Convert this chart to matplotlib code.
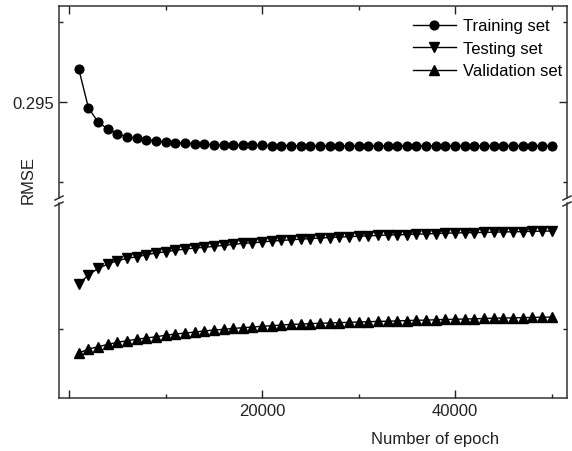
import numpy as np
import matplotlib
matplotlib.use('Agg')
import matplotlib.pyplot as plt
from matplotlib.ticker import MultipleLocator, FixedLocator, NullFormatter, FixedFormatter

plt.rcParams['font.family'] = ['Liberation Sans', 'DejaVu Sans']

epochs = np.arange(1000, 50001, 1000)

training = [0.295206, 0.294963, 0.294875, 0.294831, 0.294800, 0.294783, 0.294773,
            0.294764, 0.294756, 0.294750, 0.294746, 0.294742, 0.294739, 0.294736,
            0.294734, 0.294733, 0.294731, 0.294730, 0.294729, 0.294729, 0.294728,
            0.294728, 0.294728, 0.294727, 0.294727, 0.294727, 0.294727, 0.294727,
            0.294727, 0.294727, 0.294727, 0.294727, 0.294727, 0.294727, 0.294727,
            0.294727, 0.294727, 0.294727, 0.294727, 0.294727, 0.294727, 0.294727,
            0.294727, 0.294727, 0.294727, 0.294727, 0.294727, 0.294727, 0.294727,
            0.294727]

testing = [0.290281, 0.290338, 0.290379, 0.290406, 0.290427, 0.290442, 0.290452,
           0.290464, 0.290475, 0.290483, 0.290492, 0.290500, 0.290506, 0.290511,
           0.290517, 0.290523, 0.290529, 0.290536, 0.290539, 0.290544, 0.290550,
           0.290554, 0.290558, 0.290562, 0.290566, 0.290569, 0.290572, 0.290575,
           0.290578, 0.290580, 0.290583, 0.290585, 0.290588, 0.290589, 0.290591,
           0.290593, 0.290595, 0.290597, 0.290599, 0.290601, 0.290602, 0.290603,
           0.290604, 0.290606, 0.290607, 0.290608, 0.290609, 0.290611, 0.290612,
           0.290613]

validation = [0.289850, 0.289875, 0.289889, 0.289904, 0.289917, 0.289927, 0.289936,
              0.289944, 0.289952, 0.289961, 0.289969, 0.289975, 0.289981, 0.289988,
              0.289994, 0.289998, 0.290004, 0.290008, 0.290013, 0.290017, 0.290021,
              0.290025, 0.290029, 0.290031, 0.290034, 0.290036, 0.290038, 0.290040,
              0.290042, 0.290044, 0.290046, 0.290048, 0.290049, 0.290051, 0.290053,
              0.290055, 0.290056, 0.290058, 0.290060, 0.290061, 0.290063, 0.290064,
              0.290066, 0.290068, 0.290069, 0.290070, 0.290071, 0.290073, 0.290074,
              0.290075]

W, H = 572, 452
FS = 12
fig = plt.figure(figsize=(W / 100, H / 100), dpi=100)

def box(x0, y0, x1, y1):
    # pixel box (top-left origin) -> figure fraction
    return [x0 / W, 1 - y1 / H, (x1 - x0) / W, (y1 - y0) / H]

ax_top = fig.add_axes(box(59, 7, 567, 199))
ax_bot = fig.add_axes(box(59, 204, 567, 399))

mk = dict(color='black', lw=1.0, markersize=7)
l1, = ax_top.plot(epochs, training, marker='o', markersize=6.3, color='black', lw=1.0,
                  label='Training set')
l2, = ax_bot.plot(epochs, testing, marker='v', label='Testing set', **mk)
l3, = ax_bot.plot(epochs, validation, marker='^', label='Validation set', **mk)

for ax in (ax_top, ax_bot):
    ax.set_xlim(-1050, 51600)
    ax.xaxis.set_major_locator(MultipleLocator(20000))
    ax.xaxis.set_minor_locator(MultipleLocator(10000))
    ax.tick_params(which='both', direction='in', top=True, right=True,
                   labelsize=FS, colors='#222222', width=1.0)
    ax.tick_params(which='major', length=6)
    ax.tick_params(which='minor', length=3)
    for s in ax.spines.values():
        s.set_linewidth(1.1)
        s.set_color('#333333')

ax_top.set_ylim(0.2944, 0.2956)
ax_top.yaxis.set_major_locator(FixedLocator([0.295]))
ax_top.yaxis.set_major_formatter(FixedFormatter(['0.295']))
ax_top.yaxis.set_minor_locator(FixedLocator([0.2945, 0.2955]))
ax_top.spines['bottom'].set_visible(False)
ax_top.tick_params(which='both', bottom=False, labelbottom=False)

ax_bot.set_ylim(0.289569, 0.290788)
ax_bot.yaxis.set_major_locator(FixedLocator([]))
ax_bot.yaxis.set_minor_locator(FixedLocator([0.290]))
ax_bot.yaxis.set_minor_formatter(NullFormatter())
ax_bot.spines['top'].set_visible(False)
ax_bot.tick_params(which='both', top=False)
ax_bot.xaxis.set_major_formatter(FixedFormatter(['', '', '20000', '40000']))

ax_bot.set_xlabel('Number of epoch', fontsize=FS, color='#222222')
ax_bot.xaxis.set_label_coords((435 - 59) / 508, -0.17)
fig.text(28 / W, 1 - 180 / H, 'RMSE', rotation=90, ha='center', va='center',
         fontsize=FS, color='#222222')

# break marks on both side spines
d = 4
for xp in (59, 567):
    for yp in (199, 205):
        xs = [(xp - d) / W, (xp + d) / W]
        ys = [1 - (yp + 2) / H, 1 - (yp - 2) / H]
        fig.add_artist(plt.Line2D(xs, ys, color='#333333', lw=1.1))

ax_top.legend(handles=[l1, l2, l3], loc='upper right', frameon=False,
              fontsize=FS, handlelength=2.6, handletextpad=0.45,
              labelspacing=0.45, borderpad=0.75, borderaxespad=0.0,
              bbox_to_anchor=(1.016, 1.0))

fig.savefig('out.png', dpi=100)
